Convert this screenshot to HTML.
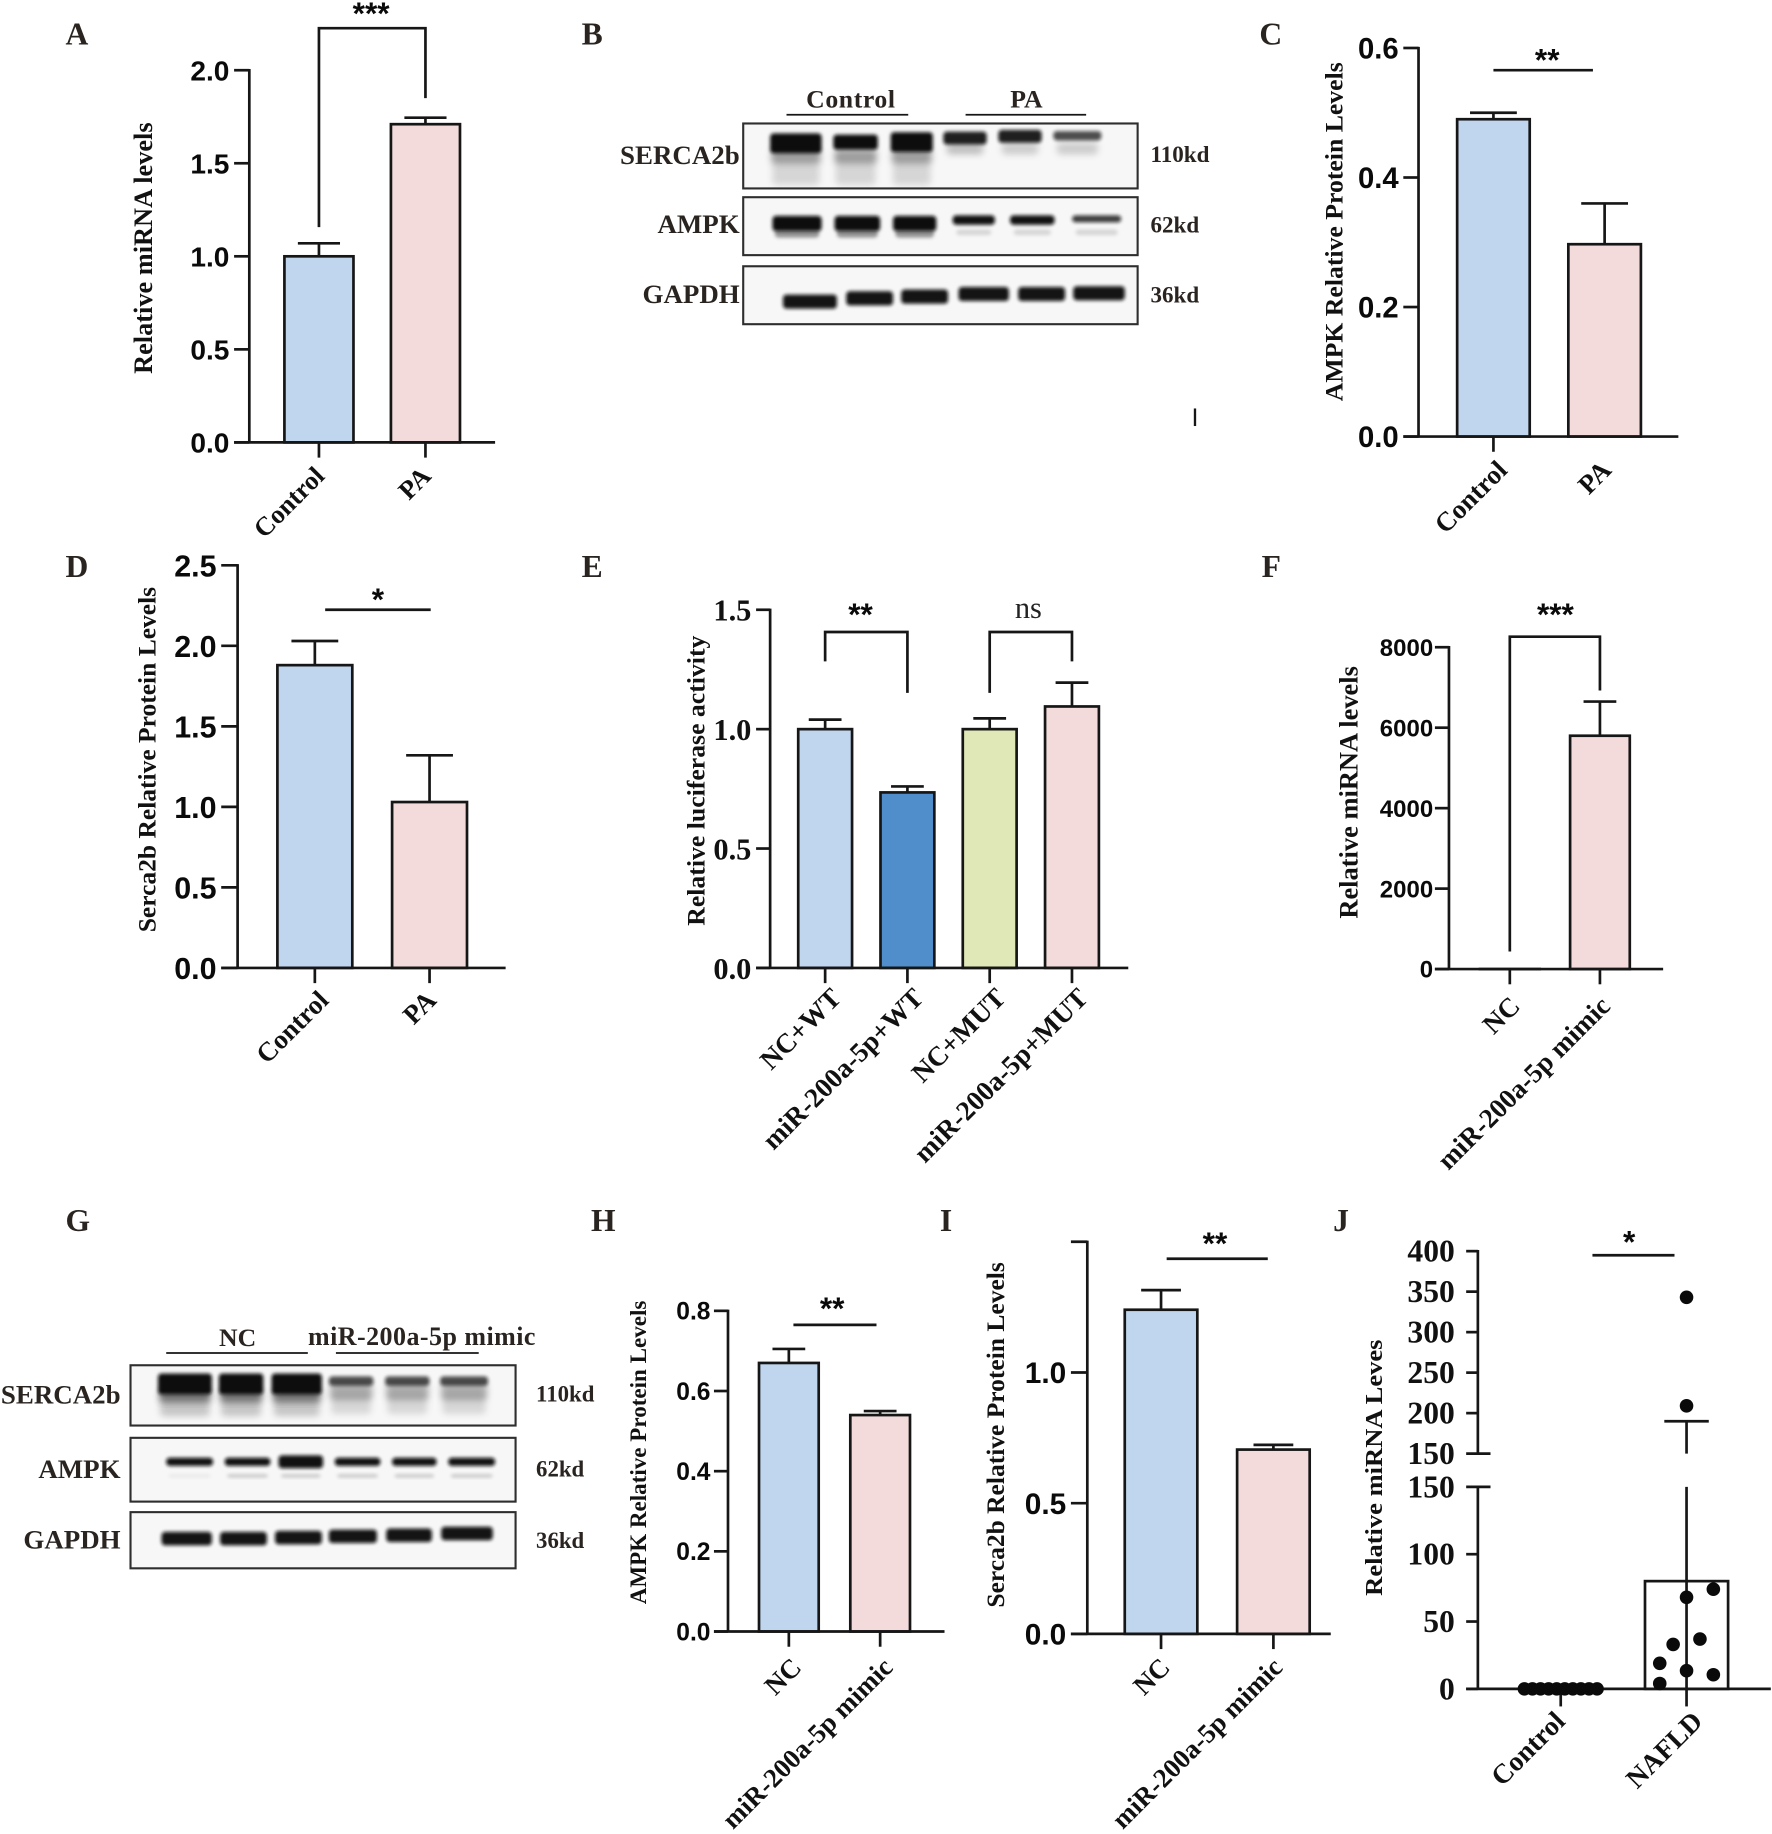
<!DOCTYPE html>
<html lang="en">
<head>
<meta charset="utf-8">
<title>Multi-panel figure</title>
<style>
html,body{margin:0;padding:0;background:#fff}
svg{display:block}
.t{font-family:"Liberation Serif",serif;font-weight:bold;fill:#111}
.s{font-family:"Liberation Sans",sans-serif;font-weight:bold;fill:#0a0a0a}
.l{font-family:"Liberation Serif",serif;font-weight:bold;fill:#2a2421}
</style>
</head>
<body>
<svg id="fig" xmlns="http://www.w3.org/2000/svg" width="1772" height="1834" viewBox="0 0 1514 1567">
<defs>
<filter id="b1" x="-20%" y="-60%" width="140%" height="220%"><feGaussianBlur stdDeviation="1.7"/></filter>
<filter id="b2" x="-20%" y="-50%" width="140%" height="200%"><feGaussianBlur stdDeviation="3"/></filter>
</defs>
</svg>
<script>
// Panel A
const aCategories = ['Control', 'PA'];
const aValues = [1.0, 1.71];
const aErrors = [0.07, 0.035];
const aTicks = ['0.0', '0.5', '1.0', '1.5', '2.0'];
// Panel C
const cCategories = ['Control', 'PA'];
const cValues = [0.49, 0.297];
const cErrors = [0.01, 0.063];
const cTicks = ['0.0', '0.2', '0.4', '0.6'];
// Panel D
const dCategories = ['Control', 'PA'];
const dValues = [1.88, 1.03];
const dErrors = [0.15, 0.29];
const dTicks = ['0.0', '0.5', '1.0', '1.5', '2.0', '2.5'];
// Panel E
const eCategories = ['NC+WT', 'miR-200a-5p+WT', 'NC+MUT', 'miR-200a-5p+MUT'];
const eValues = [1.0, 0.735, 1.0, 1.095];
const eErrors = [0.04, 0.025, 0.045, 0.1];
const eTicks = ['0.0', '0.5', '1.0', '1.5'];
// Panel F
const fCategories = ['NC', 'miR-200a-5p mimic'];
const fValues = [1, 5800];
const fErrors = [0, 850];
const fTicks = ['0', '2000', '4000', '6000', '8000'];
// Panel H
const hCategories = ['NC', 'miR-200a-5p mimic'];
const hValues = [0.67, 0.54];
const hErrors = [0.035, 0.01];
const hTicks = ['0.0', '0.2', '0.4', '0.6', '0.8'];
// Panel I
const iCategories = ['NC', 'miR-200a-5p mimic'];
const iValues = [1.24, 0.705];
const iErrors = [0.075, 0.018];
const iTicks = ['0.0', '0.5', '1.0', '1.5'];
const iTickLabels = ['0.0', '0.5', '1.0', ''];
// Panel J
const jCategories = ['Control', 'NAFLD'];
const jBarValue = 80;
const jBarError = 110;
const jControlPoints = [0, 0, 0, 0, 0, 0, 0, 0, 0, 0];
const jNafldPoints = [343, 209, 74, 68, 37, 33, 19, 13.5, 10.5, 4];
const jNafldJitter = [0, 0, 1, 0, 0.5, -0.5, -1, 0, 1, -1];
const jLowerTicks = [0, 50, 100, 150];
const jUpperTicks = [150, 200, 250, 300, 350, 400];

const svg = document.getElementById('fig');
const NS = 'http://www.w3.org/2000/svg';
const INK = '#161616';
const SW = 2.3;

function mk(tag, attrs, name, parent) {
  const el = document.createElementNS(NS, tag);
  for (const k in attrs) el.setAttribute(k, attrs[k]);
  
  
  (parent || svg).appendChild(el);
  return el;
}
function line(x1, y1, x2, y2, name, w, parent) {
  return mk('line', {x1, y1, x2, y2, stroke: INK, 'stroke-width': w || SW}, name, parent);
}
function text(x, y, str, cls, size, anchor, name, extra) {
  const el = mk('text', Object.assign({x, y, class: cls, 'font-size': size, 'text-anchor': anchor || 'middle'}, extra || {}), name);
  el.textContent = str;
  return el;
}
function rotText(x, y, str, size, angle, name, anchor, extra) {
  return text(x, y, str, 't', size, anchor || 'end', name, Object.assign({transform: `rotate(${angle} ${x} ${y})`}, extra || {}));
}
function linear(d0, d1, r0, r1) { return v => r0 + (v - d0) * (r1 - r0) / (d1 - d0); }

function barPanel(p) {
  const y = linear(p.dom[0], p.dom[1], p.y0, p.yTop);
  const x = i => p.x0 + i * p.step;
  const gap = p.tgap === undefined ? 4 : p.tgap;
  p.values.forEach((v, i) => {
    const top = y(v);
    mk('rect', {x: x(i) - p.bw / 2, y: top, width: p.bw, height: p.y0 - top, fill: p.fills[i], stroke: INK, 'stroke-width': SW}, `${p.id}-bar-${i}`);
    if (p.errors[i] > 0) {
      const e = y(v + p.errors[i]);
      line(x(i), top, x(i), e, `${p.id}-error-stem-${i}`);
      line(x(i) - p.cap, e, x(i) + p.cap, e, `${p.id}-error-cap-${i}`);
    }
  });
  line(p.ax, y(p.dom[1]) - 1, p.ax, p.y0, `${p.id}-y-axis`);
  line(p.ax - p.tk, p.y0, p.axEnd, p.y0, `${p.id}-x-axis`);
  p.ticks.forEach((t, i) => {
    const v = parseFloat(t);
    line(p.ax - p.tk, y(v), p.ax, y(v), `${p.id}-y-tick-${i}`);
    const lab = p.tickLabels ? p.tickLabels[i] : t;
    if (lab) text(p.ax - p.tk - gap, y(v) + p.tf * 0.36, lab, p.tcls, p.tf, 'end', `${p.id}-y-tick-label-${i}`);
  });
  p.cats.forEach((c, i) => {
    if (!(p.noTick || []).includes(i)) line(x(i), p.y0, x(i), p.y0 + 13, `${p.id}-x-tick-${i}`);
    const labelX = p.x0 + i * (p.lstep || p.step) + p.lx;
    rotText(labelX, p.y0 + p.ly, c, p.lf, -45, `${p.id}-x-label-${i}`);
  });
  rotText(p.tx, p.ty, p.title, p.titleF, -90, `${p.id}-y-title`, 'middle');
  (p.lines || []).forEach((s, i) => line(x(s[0]), y(s[2]), x(s[1]), y(s[2]), `${p.id}-significance-line-${i}`));
  (p.brackets || []).forEach((b, i) => {
    mk('polyline', {points: `${x(b[0])},${y(b[2])} ${x(b[0])},${y(b[3])} ${x(b[1])},${y(b[3])} ${x(b[1])},${y(b[4])}`, fill: 'none', stroke: INK, 'stroke-width': SW}, `${p.id}-significance-bracket-${i}`);
  });
  (p.stars || []).forEach((s, i) => {
    const isNs = s[2] === 'ns';
    text(x(s[0]), y(s[1]) + (isNs ? 8 : 13), s[2], isNs ? 'ns' : 's', isNs ? 26 : 27, 'middle', `${p.id}-significance-label-${i}`, isNs ? {style: 'font-family:"Liberation Serif",serif;fill:#222'} : {});
  });
}

const BLUE = '#c0d6ef', PINK = '#f2dbda', DBLUE = '#4f8dcb', GREEN = '#dfe8b6';

barPanel({id: 'panel-a', cats: aCategories, values: aValues, errors: aErrors, ticks: aTicks, dom: [0, 2], y0: 378, yTop: 60, ax: 213, axEnd: 423, tk: 13, x0: 272.5, step: 91, bw: 59, cap: 18, fills: [BLUE, PINK], tf: 24, tcls: 's', lx: 6, ly: 30, lf: 22.5, title: 'Relative miRNA levels', titleF: 22.5, tx: 130, ty: 212,
  brackets: [[0, 1, 1.157, 2.226, 1.85]], stars: [[0.49, 2.33, '***']]});
barPanel({id: 'panel-c', cats: cCategories, values: cValues, errors: cErrors, ticks: cTicks, dom: [0, 0.6], y0: 373, yTop: 41, ax: 1212, axEnd: 1434, tk: 13, x0: 1276, step: 95, lstep: 89, bw: 62, cap: 20, fills: [BLUE, PINK], tf: 25, tcls: 's', lx: 13, ly: 30, lf: 23, noTick: [1], title: 'AMPK Relative Protein Levels', titleF: 22, tx: 1147, ty: 198,
  lines: [[0, 0.895, 0.5657]], stars: [[0.484, 0.589, '**']]});
barPanel({id: 'panel-d', cats: dCategories, values: dValues, errors: dErrors, ticks: dTicks, dom: [0, 2.5], y0: 827, yTop: 483, ax: 203, axEnd: 432, tk: 14, x0: 269, step: 98, lstep: 92, bw: 64, cap: 20, fills: [BLUE, PINK], tf: 26, tcls: 's', lx: 13, ly: 29, lf: 23, title: 'Serca2b Relative Protein Levels', titleF: 21.8, tx: 133, ty: 649,
  lines: [[0.09, 1.01, 2.224]], stars: [[0.55, 2.318, '*']]});
barPanel({id: 'panel-e', cats: eCategories, values: eValues, errors: eErrors, ticks: eTicks, dom: [0, 1.5], y0: 827, yTop: 521, ax: 658, axEnd: 964, tk: 12, x0: 705, step: 70.3, bw: 46, cap: 14, fills: [BLUE, DBLUE, GREEN, PINK], tf: 26, tcls: 't', lx: 15, ly: 27, lf: 23.5, title: 'Relative luciferase activity', titleF: 22, tx: 602, ty: 667,
  brackets: [[0, 1, 1.284, 1.407, 1.152], [2, 3, 1.152, 1.407, 1.284]], stars: [[0.43, 1.5, '**'], [2.47, 1.505, 'ns']]});
barPanel({id: 'panel-f', cats: fCategories, values: fValues, errors: fErrors, ticks: fTicks, dom: [0, 8000], y0: 828, yTop: 553, ax: 1238, axEnd: 1421, tk: 12, tgap: 1.5, x0: 1290, step: 77, bw: 51, cap: 14, fills: [BLUE, PINK], tf: 20.5, tcls: 's', lx: 10, ly: 33, lf: 23.3, title: 'Relative miRNA levels', titleF: 22.6, tx: 1160, ty: 677,
  brackets: [[0, 1, 436, 8262, 6924]], stars: [[0.506, 8930, '***']]});
barPanel({id: 'panel-h', cats: hCategories, values: hValues, errors: hErrors, ticks: hTicks, dom: [0, 0.8], y0: 1394, yTop: 1120, ax: 622, axEnd: 807, tk: 12, tgap: 3, x0: 674, step: 78, bw: 51, cap: 14, fills: [BLUE, PINK], tf: 21, tcls: 's', lx: 12, ly: 32, lf: 23, title: 'AMPK Relative Protein Levels', titleF: 19.7, tx: 552, ty: 1241,
  lines: [[0.05, 0.96, 0.765]], stars: [[0.474, 0.818, '**']]});
barPanel({id: 'panel-i', cats: iCategories, values: iValues, errors: iErrors, ticks: iTicks, tickLabels: iTickLabels, dom: [0, 1.5], y0: 1396, yTop: 1061, ax: 929, axEnd: 1137, tk: 14, x0: 992, step: 96, bw: 62, cap: 17, fills: [BLUE, PINK], tf: 25.5, tcls: 's', lx: 9, ly: 30, lf: 23, title: 'Serca2b Relative Protein Levels', titleF: 21.8, tx: 858, ty: 1226,
  lines: [[0.05, 0.95, 1.435]], stars: [[0.48, 1.511, '**']]});

// Panel J: broken axis
const jLower = linear(0, 150, 1443, 1270.4);
const jUpper = linear(150, 400, 1242, 1069);
const jX = i => 1333.5 + i * 107.5;
const jY = v => v > 150 ? jUpper(v) : jLower(v);
mk('rect', {x: jX(1) - 35.5, y: jY(jBarValue), width: 71, height: 1443 - jY(jBarValue), fill: 'none', stroke: INK, 'stroke-width': SW}, 'panel-j-bar-nafld');
line(jX(1), jY(jBarValue), jX(1), jLower(150), 'panel-j-error-stem-lower');
line(jX(1), 1443, jX(1), jY(jBarValue), 'panel-j-error-stem-inner');
line(jX(1), jUpper(150), jX(1), jUpper(jBarValue + jBarError), 'panel-j-error-stem-upper');
line(jX(1) - 19, jUpper(jBarValue + jBarError), jX(1) + 19, jUpper(jBarValue + jBarError), 'panel-j-error-cap');
line(1262.7, jUpper(400) - 1, 1262.7, jUpper(150), 'panel-j-y-axis-upper');
line(1262.7, jLower(150), 1262.7, 1443, 'panel-j-y-axis-lower');
line(1252.7, 1443, 1513, 1443, 'panel-j-x-axis');
jLowerTicks.forEach((t, i) => {
  line(1252.7, jLower(t), t === 150 ? 1273.5 : 1262.7, jLower(t), 'panel-j-y-tick-lower-' + i);
  text(1243, jLower(t) + 9, String(t), 't', 27, 'end', 'panel-j-y-tick-label-lower-' + i);
});
jUpperTicks.forEach((t, i) => {
  line(1252.7, jUpper(t), t === 150 ? 1273.5 : 1262.7, jUpper(t), 'panel-j-y-tick-upper-' + i);
  text(1243, jUpper(t) + 9, String(t), 't', 27, 'end', 'panel-j-y-tick-label-upper-' + i);
});
jCategories.forEach((c, i) => {
  line(jX(i), 1443, jX(i), 1458, 'panel-j-x-tick-' + i);
  rotText(jX(i) + 5 + i * 10, 1472, c, 23.5, -45, 'panel-j-x-label-' + i);
});
jControlPoints.forEach((v, i) => {
  mk('circle', {cx: jX(0) + (i - 4.5) * 6.9, cy: jY(v), r: 5.8, fill: '#0a0a0a'}, 'panel-j-control-point-' + i);
});
jNafldPoints.forEach((v, i) => {
  mk('circle', {cx: jX(1) + jNafldJitter[i] * 22.9, cy: jY(v), r: 5.8, fill: '#0a0a0a'}, 'panel-j-nafld-point-' + i);
});
rotText(1181, 1254, 'Relative miRNA Leves', 21, -90, 'panel-j-y-title', 'middle', {textLength: 219, lengthAdjust: 'spacingAndGlyphs'});
line(1360.6, 1072.5, 1430.7, 1072.5, 'panel-j-significance-line');
text(1392, 1070, '*', 's', 27, 'middle', 'panel-j-significance-label');

// Panel letters
const letters = [['A', 56, 38], ['B', 497, 38], ['C', 1076, 38], ['D', 56, 493], ['E', 497, 493], ['F', 1078, 493], ['G', 56, 1052], ['H', 505, 1052], ['I', 803, 1052], ['J', 1139, 1052]];
letters.forEach(l => text(l[1], l[2], l[0], 'l', 27, 'start', 'panel-label-' + l[0].toLowerCase()));

// Western blots (decorative band layout)
function blot(id, box, bands) {
  const g = mk('g', {}, id + '-blot');
  mk('rect', {x: box[0], y: box[1], width: box[2] - box[0], height: box[3] - box[1], fill: '#f7f7f7', stroke: 'none'}, id + '-background', g);
  const clipId = 'clip-' + id;
  const defs = svg.querySelector('defs');
  const cp = document.createElementNS(NS, 'clipPath');
  cp.setAttribute('id', clipId);
  const cr = document.createElementNS(NS, 'rect');
  cr.setAttribute('x', box[0]); cr.setAttribute('y', box[1]);
  cr.setAttribute('width', box[2] - box[0]); cr.setAttribute('height', box[3] - box[1]);
  cp.appendChild(cr); defs.appendChild(cp);
  const inner = mk('g', {'clip-path': `url(#${clipId})`}, id + '-bands', g);
  bands.forEach((b, i) => {
    mk('rect', {x: b[0], y: b[2], width: b[1] - b[0], height: b[3], rx: 3, fill: b[5] || '#0c0c0c', opacity: b[4], filter: b[6] ? 'url(#b2)' : 'url(#b1)'}, id + '-band-' + i, inner);
  });
  mk('rect', {x: box[0], y: box[1], width: box[2] - box[0], height: box[3] - box[1], fill: 'none', stroke: '#2e2e2e', 'stroke-width': 1.8}, id + '-frame', g);
}
function cols(xs, f) { const o = []; xs.forEach((x, i) => f(x, i).forEach(r => o.push(r))); return o; }

const bS = [[658, 702, 114, 17], [712, 750, 115, 13], [761, 797, 113, 17], [806, 843, 112.5, 11], [853, 890, 111, 11], [900, 941, 112, 8]];
blot('b-serca2b', [635, 105.5, 972, 161], cols(bS, (x, i) => i < 3 ? [
  [x[0] + 2, x[1] - 2, 139, 19, 0.2, '#555', 1],
  [x[0] + 1, x[1] - 1, 128, 12, 0.5, '#444', 1],
  [x[0], x[1], x[2], x[3], 1]
] : [
  [x[0] + 3, x[1] - 3, 122, 10, i === 3 ? 0.34 : 0.26, '#555', 1],
  [x[0], x[1], x[2], x[3], i === 5 ? 0.72 : 0.92]
]).concat([[640, 106, 330, 2, 0.3, '#555']]));
const bA = [[660, 702], [713, 752], [763, 800], [814, 850], [863, 901], [916, 958]];
blot('b-ampk', [635, 168.5, 972, 218], cols(bA, (x, i) => i < 3 ? [
  [x[0] + 2, x[1] - 2, 196, 7, 0.5, '#333'],
  [x[0], x[1], 184.5, 13, 1]
] : [
  [x[0] + 3, x[1] - 3, 196, 5, 0.2, '#555'],
  [x[0], x[1], 184, i === 5 ? 6 : 8, i === 5 ? 0.8 : 0.98]
]));
const bG = [[669, 715, 257.7], [723, 763, 254.9], [770, 810, 253.4], [819, 862, 251.2], [870, 910, 251.2], [917, 961, 250.6]];
blot('b-gapdh', [635, 227.5, 972, 277], bG.map(x => [x[0], x[1], x[2] - 6, 12, 0.97]).concat([[644, 244, 8, 14, 0.12, '#555', 1]]));

const gS = [[135, 181], [187, 225], [232, 275], [281, 319], [329, 367], [376, 417]];
blot('g-serca2b', [111.5, 1166.5, 440.5, 1218], cols(gS, (x, i) => i < 3 ? [
  [x[0] + 2, x[1] - 2, 1195, 15, 0.3, '#555', 1],
  [x[0] + 1, x[1] - 1, 1188, 10, 0.65, '#333', 1],
  [x[0], x[1], 1173.5, 18, 1]
] : [
  [x[0] + 2, x[1] - 2, 1192, 16, 0.2, '#555', 1],
  [x[0] + 1, x[1] - 1, 1182, 14, 0.42, '#444', 1],
  [x[0], x[1], 1176, 8, 0.72]
]).concat([[135, 1165, 305, 5, 0.88, '#222'], [113, 1194, 14, 10, 0.1, '#555', 1]]));
const gA = [[142, 182], [192, 231], [238, 276], [286, 325], [335, 373], [383, 423]];
blot('g-ampk', [111.5, 1228.5, 440.5, 1283], cols(gA, (x, i) => [
  [x[0] + 2, x[1] - 2, 1259.5, 3, i === 0 ? 0.08 : 0.26, '#444'],
  [x[0], x[1], i === 2 ? 1243.5 : 1245.5, i === 2 ? 11 : 7, 0.98]
]));
const gG = [[138, 181, 1314.4], [188, 228, 1314.4], [235, 275, 1313.5], [281, 322, 1312.4], [330, 369, 1311.5], [377, 421, 1310]];
blot('g-gapdh', [111.5, 1292, 440.5, 1340], gG.map(x => [x[0], x[1], x[2] - 5.5, 11.5, 0.97]));

[['SERCA2b', 132], ['AMPK', 191], ['GAPDH', 251]].forEach((r, i) => text(632, r[1] + 8, r[0], 't', 23, 'end', 'b-protein-label-' + i, {style: 'fill:#2a2421'}));
[['110kd', 132], ['62kd', 192], ['36kd', 252]].forEach((r, i) => text(983, r[1] + 6.5, r[0], 't', 19.7, 'start', 'b-size-label-' + i, {style: 'fill:#2a2421'}));
text(727, 92, 'Control', 't', 22, 'middle', 'b-group-control', {style: 'fill:#2a2421;letter-spacing:.5px'});
text(877, 92, 'PA', 't', 22, 'middle', 'b-group-pa', {style: 'fill:#2a2421'});
line(672, 98, 776, 98, 'b-group-line-control', 1.5);
line(825, 98, 928, 98, 'b-group-line-pa', 1.5);
line(1021, 349, 1021, 364, 'b-stray-mark', 2);

[['SERCA2b', 1191], ['AMPK', 1255], ['GAPDH', 1315]].forEach((r, i) => text(103, r[1] + 8, r[0], 't', 23, 'end', 'g-protein-label-' + i, {style: 'fill:#2a2421'}));
[['110kd', 1191], ['62kd', 1255], ['36kd', 1316]].forEach((r, i) => text(458, r[1] + 6.5, r[0], 't', 19.5, 'start', 'g-size-label-' + i, {style: 'fill:#2a2421'}));
text(203, 1150, 'NC', 't', 22, 'middle', 'g-group-nc', {style: 'fill:#2a2421'});
text(360.5, 1149, 'miR-200a-5p mimic', 't', 22.2, 'middle', 'g-group-mimic', {style: 'fill:#2a2421;letter-spacing:.4px'});
line(142, 1156, 263, 1156, 'g-group-line-nc', 1.5);
line(287, 1156, 409, 1156, 'g-group-line-mimic', 1.5);
</script>
</body>
</html>
